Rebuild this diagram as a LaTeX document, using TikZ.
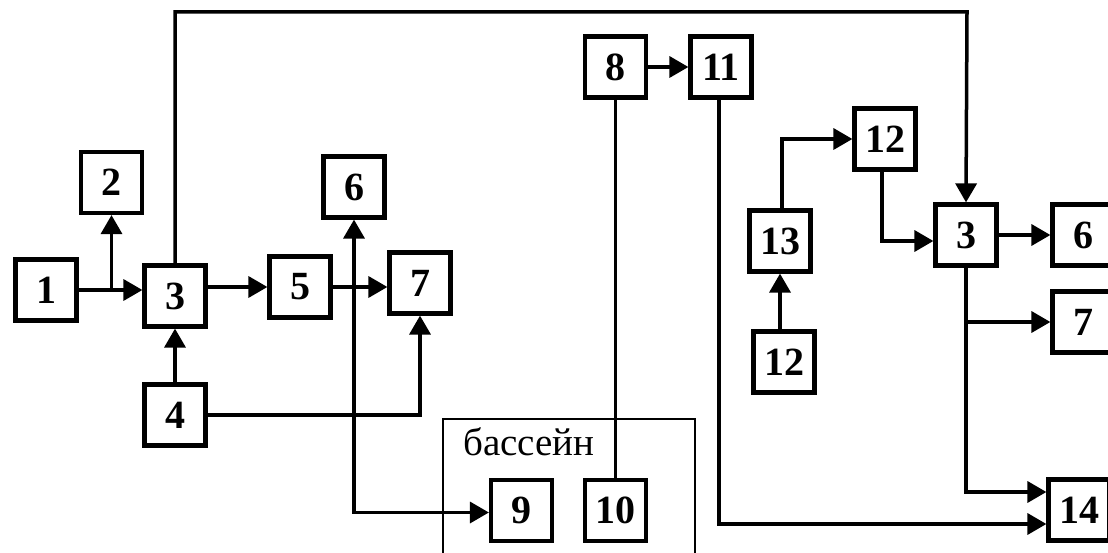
\documentclass[tikz,border=0pt]{standalone}
\usepackage{fontspec}
\setmainfont{Liberation Serif}
\usetikzlibrary{arrows.meta}
\tikzset{
  blk/.style={draw, line width=4.2pt, minimum width=61pt, minimum height=61pt,
    inner sep=0pt, font=\bfseries\fontsize{40}{40}\selectfont},
  link/.style={line width=3.5pt},
  tip/.tip={Triangle[length=19pt,width=21pt]},
  arr/.style={link, -tip},
  arrboth/.style={link, tip-tip},
  basin/.style={line width=1.6pt},
}
\begin{document}
\begin{tikzpicture}[x=1pt,y=-1pt]
\useasboundingbox (0,0) rectangle (1108,553);
\clip (0,0) rectangle (1108,553);

% left group
\node[blk] (b1) at (46,290) {1};
\node[blk] (b2) at (111.5,182.5) {2};
\node[blk] (b3) at (175,296) {3};
\node[blk] (b4) at (175,415) {4};
\node[blk] (b5) at (300,287) {5};
\node[blk] (b6) at (354,187) {6};
\node[blk] (b7) at (420,283) {7};

% middle group
\node[blk] (b8) at (615.5,67) {8};
\node[blk] (b11) at (721,67) {11};
\node[blk] (b9) at (521.5,510.5) {9};
\node[blk] (b10) at (615.5,510.5) {10};

% right group
\node[blk] (b12a) at (885,139) {12};
\node[blk] (b13) at (780,241) {13};
\node[blk] (b12b) at (784,362) {12};
\node[blk] (b3r) at (966,235) {3};
\node[blk] (b6r) at (1083,235) {6};
\node[blk] (b7r) at (1083,322) {7};
\node[blk] (b14) at (1079,510) {14};

% pool outline
\draw[basin] (443,600) -- (443,419) -- (695,419) -- (695,600);
\node[font=\fontsize{39}{39}\selectfont] (pool) at (529,442) {бассейн};

% connectors, left group
\coordinate (top) at (967,12);
\draw[arr] (b1.east) -- (b1.east -| b3.west);
\draw[arr] (b2.south |- b1.east) -- (b2.south);
\draw[arr] (b4.north) -- (b3.south);
\draw[arr] (b5.west -| b3.east) -- (b5.west);
\draw[arr] (b5.east) -- (b5.east -| b7.west);
\draw[arr] (b4.east) -| (b7.south);
\draw[arrboth] (b6.south) |- ([yshift=-2pt]b9.west);
\draw[arr] (b3.north) |- (top) -- (b3r.north);

% connectors, middle group
\draw[arr] (b8.east) -- (b11.west);
\draw[link] (b8.south) -- (b10.north);
\draw[arr] ([xshift=-2pt]b11.south) |- ([yshift=-14pt]b14.west);

% connectors, right group
\draw[arr] (b12b.north -| b13.south) -- (b13.south);
\draw[arr] ([xshift=2pt]b13.north) |- (b12a.west);
\draw[arr] ([xshift=-3pt]b12a.south) |- ([yshift=-6pt]b3r.west);
\draw[arr] (b3r.east) -- (b6r.west);
\draw[arr] (b3r.south) |- ([yshift=18pt]b14.west);
\draw[arr] (b3r.south |- b7r.west) -- (b7r.west);
\end{tikzpicture}
\end{document}
